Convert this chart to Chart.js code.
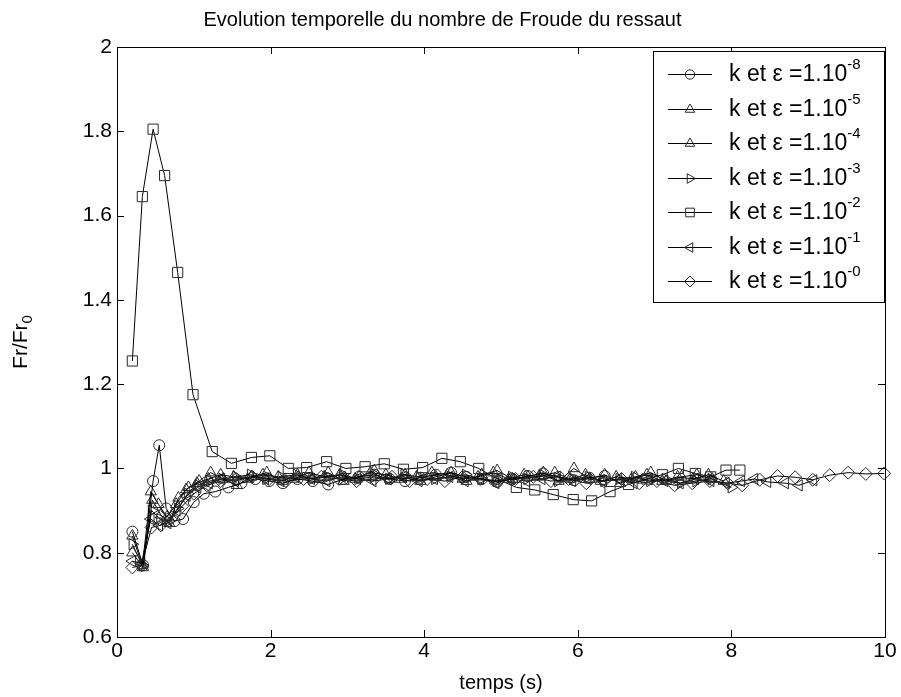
<!DOCTYPE html>
<html>
<head>
<meta charset="utf-8">
<script src="https://cdn.jsdelivr.net/npm/chart.js@4/dist/chart.umd.min.js"></script>
<style>
  html, body { margin: 0; padding: 0; background: #fff; }
  #zone { width: 901px; height: 697px; }
</style>
</head>
<body>
<div id="zone"><canvas id="graf"></canvas></div>
<script>
// temps (s) et Fr/Fr0 pour chaque valeur de k et epsilon
const tEps8 = [0.2, 0.34, 0.47, 0.55, 0.64, 0.75, 0.86, 1.0, 1.13, 1.28, 1.45, 1.62, 1.8, 1.98, 2.16, 2.35, 2.55, 2.75, 2.95, 3.15, 3.35, 3.55, 3.75, 3.95, 4.15, 4.35, 4.55, 4.75, 4.95, 5.15, 5.35, 5.55, 5.75, 5.95, 6.15, 6.35];
const frEps8 = [0.85, 0.77, 0.97, 1.055, 0.905, 0.875, 0.88, 0.92, 0.94, 0.945, 0.955, 0.965, 0.975, 0.97, 0.965, 0.975, 0.97, 0.962, 0.975, 0.98, 0.985, 0.975, 0.97, 0.978, 0.985, 0.99, 0.98, 0.975, 0.968, 0.975, 0.982, 0.988, 0.98, 0.972, 0.978, 0.982];

const tEps5 = [0.2, 0.33, 0.44, 0.54, 0.65, 0.77, 0.9, 1.04, 1.19, 1.35, 1.52, 1.7, 1.9, 2.1, 2.3, 2.5, 2.7, 2.9, 3.1, 3.3, 3.5, 3.7, 3.9, 4.1, 4.3, 4.5, 4.7, 4.9, 5.1, 5.3, 5.5, 5.7, 5.9, 6.1, 6.3, 6.5, 6.7, 6.9, 7.1, 7.3, 7.5, 7.7, 7.9];
const frEps5 = [0.84, 0.77, 0.945, 0.915, 0.885, 0.915, 0.95, 0.965, 0.975, 0.985, 0.98, 0.975, 0.985, 0.98, 0.975, 0.99, 0.98, 0.985, 0.975, 0.99, 0.985, 0.975, 0.98, 0.99, 0.985, 0.975, 0.98, 0.99, 0.975, 0.985, 0.98, 0.99, 0.975, 0.985, 0.97, 0.98, 0.975, 0.985, 0.97, 0.98, 0.975, 0.985, 0.97];

const tEps4 = [0.2, 0.34, 0.46, 0.57, 0.68, 0.8, 0.93, 1.07, 1.22, 1.38, 1.56, 1.75, 1.95, 2.15, 2.35, 2.55, 2.75, 2.95, 3.15, 3.35, 3.55, 3.75, 3.95, 4.15, 4.35, 4.55, 4.75, 4.95, 5.15, 5.35, 5.55, 5.75, 5.95, 6.15, 6.35, 6.55, 6.75, 6.95, 7.15, 7.35, 7.55, 7.75];
const frEps4 = [0.80, 0.765, 0.925, 0.89, 0.87, 0.93, 0.955, 0.97, 0.99, 0.975, 0.96, 0.98, 0.99, 0.97, 0.985, 0.975, 0.99, 0.97, 0.98, 0.995, 0.975, 0.985, 0.97, 0.98, 0.99, 0.97, 0.985, 0.995, 0.975, 0.98, 0.99, 0.97, 1.0, 0.975, 0.985, 0.965, 0.98, 0.99, 0.97, 0.98, 0.985, 0.975];

const tEps3 = [0.2, 0.33, 0.45, 0.56, 0.67, 0.79, 0.92, 1.06, 1.21, 1.37, 1.55, 1.74, 1.94, 2.14, 2.34, 2.54, 2.74, 2.94, 3.14, 3.34, 3.54, 3.74, 3.94, 4.14, 4.34, 4.54, 4.74, 4.94, 5.14, 5.34, 5.54, 5.74, 5.94, 6.14, 6.34, 6.54, 6.74, 6.94, 7.14, 7.34, 7.54, 7.74, 8.0];
const frEps3 = [0.82, 0.77, 0.90, 0.88, 0.875, 0.905, 0.94, 0.96, 0.97, 0.975, 0.98, 0.985, 0.975, 0.98, 0.985, 0.975, 0.98, 0.985, 0.975, 0.98, 0.975, 0.985, 0.98, 0.975, 0.98, 0.985, 0.975, 0.97, 0.98, 0.975, 0.985, 0.97, 0.975, 0.98, 0.97, 0.975, 0.98, 0.97, 0.975, 0.965, 0.97, 0.975, 0.955];

const tEps2 = [0.2, 0.33, 0.47, 0.62, 0.79, 0.99, 1.24, 1.49, 1.75, 1.99, 2.23, 2.47, 2.73, 2.98, 3.23, 3.48, 3.73, 3.98, 4.23, 4.47, 4.71, 4.95, 5.2, 5.44, 5.68, 5.94, 6.18, 6.42, 6.66, 6.9, 7.1, 7.31, 7.53, 7.73, 7.93, 8.11];
const frEps2 = [1.255, 1.645, 1.805, 1.695, 1.465, 1.175, 1.04, 1.012, 1.026, 1.03, 1.0, 1.002, 1.016, 1.0, 1.004, 1.011, 0.998, 1.002, 1.024, 1.016, 1.0, 0.975, 0.955, 0.949, 0.938, 0.926, 0.923, 0.945, 0.962, 0.975, 0.985, 1.0, 0.988, 0.98, 0.996, 0.996];

const tEps1 = [0.2, 0.32, 0.44, 0.55, 0.66, 0.78, 0.91, 1.05, 1.2, 1.36, 1.54, 1.73, 1.93, 2.13, 2.33, 2.53, 2.73, 2.93, 3.13, 3.33, 3.53, 3.73, 3.93, 4.13, 4.33, 4.53, 4.73, 4.93, 5.13, 5.33, 5.53, 5.73, 5.93, 6.13, 6.33, 6.53, 6.73, 6.93, 7.13, 7.33, 7.53, 7.73, 7.93, 8.13, 8.3, 8.47, 8.7, 8.88, 9.07];
const frEps1 = [0.78, 0.775, 0.88, 0.865, 0.87, 0.9, 0.935, 0.955, 0.965, 0.975, 0.97, 0.98, 0.975, 0.97, 0.98, 0.975, 0.97, 0.98, 0.975, 0.97, 0.975, 0.98, 0.97, 0.975, 0.98, 0.97, 0.975, 0.965, 0.975, 0.97, 0.975, 0.98, 0.97, 0.975, 0.97, 0.975, 0.965, 0.975, 0.97, 0.965, 0.975, 0.97, 0.965, 0.97, 0.975, 0.968, 0.965, 0.96, 0.972];

const tEps0 = [0.2, 0.32, 0.45, 0.57, 0.7, 0.85, 1.0, 1.17, 1.35, 1.55, 1.76, 1.98, 2.2, 2.43, 2.66, 2.89, 3.12, 3.35, 3.58, 3.81, 4.04, 4.27, 4.5, 4.73, 4.96, 5.19, 5.42, 5.65, 5.88, 6.11, 6.34, 6.57, 6.8, 7.03, 7.26, 7.49, 7.72, 7.95, 8.14, 8.37, 8.6, 8.83, 9.06, 9.28, 9.52, 9.75, 9.99];
const frEps0 = [0.765, 0.77, 0.86, 0.865, 0.88, 0.91, 0.94, 0.96, 0.97, 0.975, 0.98, 0.975, 0.97, 0.975, 0.98, 0.975, 0.97, 0.975, 0.98, 0.97, 0.975, 0.97, 0.98, 0.975, 0.97, 0.975, 0.98, 0.97, 0.975, 0.965, 0.97, 0.975, 0.965, 0.97, 0.96, 0.965, 0.97, 0.965, 0.96, 0.973, 0.982, 0.979, 0.973, 0.984, 0.99, 0.987, 0.988];

const exposants = ['-8', '-5', '-4', '-3', '-2', '-1', '-0'];
const ticksX = [0, 2, 4, 6, 8, 10];
const ticksY = [0.6, 0.8, 1, 1.2, 1.4, 1.6, 1.8, 2];

const POLICE = "'Liberation Sans', Arial, Helvetica, sans-serif";

// marqueurs façon matlab
const courbes = [
    { t: tEps8, fr: frEps8, forme: 'circle', rot: 0, r: 5.5 },
    { t: tEps5, fr: frEps5, forme: 'triangle', rot: 0, r: 6.5 },
    { t: tEps4, fr: frEps4, forme: 'triangle', rot: 0, r: 6.5 },
    { t: tEps3, fr: frEps3, forme: 'triangle', rot: 90, r: 6.5 },
    { t: tEps2, fr: frEps2, forme: 'rect', rot: 0, r: 7.2 },
    { t: tEps1, fr: frEps1, forme: 'triangle', rot: -90, r: 6.5 },
    { t: tEps0, fr: frEps0, forme: 'rectRot', rot: 0, r: 6.5 }
];

function points(t, fr) {
    const n = Math.min(t.length, fr.length);
    const res = [];
    for (let i = 0; i < n; i++) res.push({ x: t[i], y: fr[i] });
    return res;
}

const datasets = courbes.map((c, i) => ({
    label: 'k et ε =1.10' + exposants[i],
    data: points(c.t, c.fr),
    showLine: true,
    borderColor: '#000',
    borderWidth: 1,
    pointStyle: c.forme,
    pointRotation: c.rot,
    pointRadius: c.r,
    pointBorderColor: '#2a2a2a',
    pointBackgroundColor: 'rgba(0,0,0,0)',
    pointBorderWidth: 1,
    clip: false
}));

// cadre, ticks vers l'intérieur, label y et légende
const cadre = {
    id: 'cadre',
    afterDatasetsDraw(chart) {
        const { ctx, chartArea: a, scales } = chart;
        const L = 7;
        ctx.save();
        ctx.strokeStyle = '#000';
        ctx.lineWidth = 1;
        ctx.strokeRect(Math.round(a.left) + 0.5, Math.round(a.top) + 0.5, Math.round(a.width), Math.round(a.height));
        ctx.beginPath();
        ticksX.forEach(v => {
            const px = Math.round(scales.x.getPixelForValue(v)) + 0.5;
            ctx.moveTo(px, a.bottom); ctx.lineTo(px, a.bottom - L);
            ctx.moveTo(px, a.top); ctx.lineTo(px, a.top + L);
        });
        ticksY.forEach(v => {
            const py = Math.round(scales.y.getPixelForValue(v)) + 0.5;
            ctx.moveTo(a.left, py); ctx.lineTo(a.left + L, py);
            ctx.moveTo(a.right, py); ctx.lineTo(a.right - L, py);
        });
        ctx.stroke();

        // titre axe y avec indice
        ctx.fillStyle = '#000';
        ctx.translate(21, (a.top + a.bottom) / 2);
        ctx.rotate(-Math.PI / 2);
        ctx.font = '21px ' + POLICE;
        ctx.textBaseline = 'middle';
        const w1 = ctx.measureText('Fr/Fr').width;
        ctx.font = '15px ' + POLICE;
        const w2 = ctx.measureText('0').width;
        const x0 = -(w1 + w2) / 2;
        ctx.font = '21px ' + POLICE;
        ctx.fillText('Fr/Fr', x0, 0);
        ctx.font = '15px ' + POLICE;
        ctx.fillText('0', x0 + w1, 7);
        ctx.restore();

        // légende
        const box = { l: 653, t: 51, r: 884, b: 302 };
        ctx.save();
        ctx.fillStyle = '#fff';
        ctx.fillRect(box.l, box.t, box.r - box.l, box.b - box.t);
        ctx.strokeStyle = '#000';
        ctx.lineWidth = 1;
        ctx.strokeRect(box.l + 0.5, box.t + 0.5, box.r - box.l, box.b - box.t);
        courbes.forEach((c, i) => {
            const y = 74 + i * 34.5;
            ctx.strokeStyle = '#000';
            ctx.beginPath();
            ctx.moveTo(668, Math.round(y) + 0.5);
            ctx.lineTo(712, Math.round(y) + 0.5);
            ctx.stroke();
            ctx.strokeStyle = '#2a2a2a';
            ctx.fillStyle = 'rgba(0,0,0,0)';
            Chart.helpers.drawPoint(ctx, {
                pointStyle: c.forme, rotation: c.rot, radius: c.r * 0.85, borderWidth: 1
            }, 690, Math.round(y) + 0.5);
            ctx.fillStyle = '#000';
            ctx.textBaseline = 'middle';
            ctx.font = '23px ' + POLICE;
            const txt = 'k et ε =1.10';
            ctx.fillText(txt, 729, y + 1);
            const w = ctx.measureText(txt).width;
            ctx.font = '15px ' + POLICE;
            ctx.fillText(exposants[i], 729 + w, y - 9);
        });
        ctx.restore();
    }
};

new Chart(document.getElementById('graf'), {
    type: 'scatter',
    data: { datasets: datasets },
    options: {
        responsive: true,
        maintainAspectRatio: false,
        animation: false,
        layout: { padding: { left: 0, right: 16, top: 0, bottom: 0 } },
        plugins: {
            legend: { display: false },
            tooltip: { enabled: false },
            title: {
                display: true,
                text: 'Evolution temporelle du nombre de Froude du ressaut',
                color: '#000',
                font: { family: POLICE, size: 20, weight: 'normal' },
                padding: { top: 8, bottom: 15 }
            }
        },
        scales: {
            x: {
                type: 'linear', min: 0, max: 10,
                afterBuildTicks: s => { s.ticks = ticksX.map(v => ({ value: v })); },
                ticks: { color: '#000', font: { family: POLICE, size: 21 }, padding: 2, maxRotation: 0 },
                grid: { display: false, drawTicks: false },
                border: { display: false },
                title: { display: true, text: 'temps (s)', color: '#000', font: { family: POLICE, size: 20 }, padding: { top: 0, bottom: 2 } },
                afterFit: s => { s.height = 60; }
            },
            y: {
                type: 'linear', min: 0.6, max: 2,
                afterBuildTicks: s => { s.ticks = ticksY.map(v => ({ value: v })); },
                ticks: {
                    color: '#000', font: { family: POLICE, size: 21 }, padding: 5,
                    callback: v => String(Number(v.toFixed(1)))
                },
                grid: { display: false, drawTicks: false },
                border: { display: false },
                afterFit: s => { s.width = 117; }
            }
        }
    },
    plugins: [cadre]
});
</script>
</body>
</html>
